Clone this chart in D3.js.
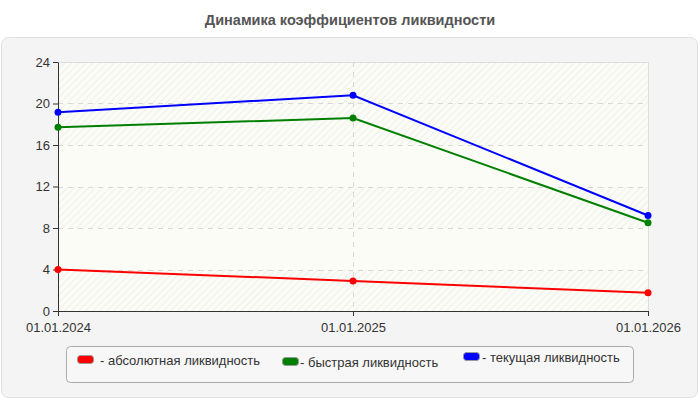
<!DOCTYPE html>
<html>
<head>
<meta charset="utf-8">
<script src="https://cdn.jsdelivr.net/npm/d3@7"></script>
<style>
  body { margin: 0; background: #fff; }
  #chart text { font-family: "Liberation Sans", Arial, sans-serif; }
</style>
</head>
<body>
<div id="chart"></div>
<script>
var dates = ["01.01.2024", "01.01.2025", "01.01.2026"];
var absolute = [4.0, 2.9, 1.75];
var quick = [17.7, 18.6, 8.5];
var current = [19.15, 20.8, 9.2];
var yTicks = [0, 4, 8, 12, 16, 20, 24];
var seriesNames = ["- абсолютная ликвидность", "- быстрая ликвидность", "- текущая ликвидность"];
var seriesColors = ["#ff0000", "#008000", "#0000ff"];
var plainBands = [[4, 8], [12, 16]];

document.addEventListener('DOMContentLoaded', function() {
  drawChart();
});

function drawChart() {
  var W = 700, H = 400;
  var margin = {top: 62, right: 52, bottom: 89, left: 58},
      width = W - margin.left - margin.right,
      height = H - margin.top - margin.bottom;

  var svg = d3.select("#chart").append("svg")
      .attr("width", W).attr("height", H);

  var defs = svg.append("defs");
  var pat = defs.append("pattern")
      .attr("id", "hatch")
      .attr("patternUnits", "userSpaceOnUse")
      .attr("width", 5).attr("height", 5)
      .attr("patternTransform", "rotate(45)");
  pat.append("rect").attr("width", 5).attr("height", 5).attr("fill", "#fcfcf7");
  pat.append("line").attr("x1", 0).attr("y1", 0).attr("x2", 0).attr("y2", 5)
      .attr("stroke", "#ebebe8").attr("stroke-width", 1.5);

  // title
  svg.append("text")
    .attr("x", W / 2).attr("y", 25)
    .attr("text-anchor", "middle")
    .style("font-size", "14.5px").style("font-weight", "bold")
    .style("fill", "#555")
    .text("Динамика коэффициентов ликвидности");

  // outer panel
  svg.append("rect")
    .attr("x", 1.5).attr("y", 37.5).attr("width", 696).attr("height", 360)
    .attr("rx", 7).attr("fill", "#f4f4f4").attr("stroke", "#e0e0e0");

  var x = d3.scalePoint().domain(dates).range([0, width]);
  var y = d3.scaleLinear().domain([0, 24]).range([height, 0]);

  var g = svg.append("g")
    .attr("transform", "translate(" + margin.left + "," + margin.top + ")");

  // plot background
  g.append("rect").attr("width", width).attr("height", height)
    .attr("fill", "url(#hatch)");
  g.selectAll(".band").data(plainBands).enter().append("rect")
    .attr("x", 0).attr("width", width)
    .attr("y", function(d) { return y(d[1]); })
    .attr("height", function(d) { return y(d[0]) - y(d[1]); })
    .attr("fill", "#fcfcf7");

  // border top / right
  g.append("path")
    .attr("d", "M0,0.5H" + (width + 0.5) + "V" + height)
    .attr("fill", "none").attr("stroke", "#dddddd");

  // grid
  g.selectAll(".hgrid").data(yTicks.slice(1, -1)).enter().append("line")
    .attr("x1", 0).attr("x2", width)
    .attr("y1", function(d) { return Math.round(y(d)) + 0.5; })
    .attr("y2", function(d) { return Math.round(y(d)) + 0.5; })
    .attr("stroke", "#d8d8d8").attr("stroke-dasharray", "5,5");
  g.selectAll(".vgrid").data(dates.slice(1, -1)).enter().append("line")
    .attr("x1", function(d) { return Math.round(x(d)) + 0.5; })
    .attr("x2", function(d) { return Math.round(x(d)) + 0.5; })
    .attr("y1", 0).attr("y2", height)
    .attr("stroke", "#d8d8d8").attr("stroke-dasharray", "5,5");

  // axes
  var yAxis = g.append("g")
    .call(d3.axisLeft(y).tickValues(yTicks).tickSize(5).tickSizeOuter(0));
  var xAxis = g.append("g")
    .attr("transform", "translate(0," + height + ")")
    .call(d3.axisBottom(x).tickSize(5).tickSizeOuter(0));
  [xAxis, yAxis].forEach(function(a) {
    a.select(".domain").attr("stroke", "#333");
    a.selectAll(".tick line").attr("stroke", "#333");
    a.selectAll(".tick text").attr("fill", "#333")
      .style("font-size", "13px").style("font-family", "'Liberation Sans', Arial, sans-serif");
  });
  xAxis.selectAll(".tick text").attr("dy", "1em");

  // lines
  var line = d3.line()
    .x(function(d, i) { return x(dates[i]); })
    .y(function(d) { return y(d); });

  [absolute, quick, current].forEach(function(data, k) {
    g.append("path")
      .datum(data)
      .attr("fill", "none")
      .attr("stroke", seriesColors[k])
      .attr("stroke-width", 2)
      .attr("d", line);
    g.selectAll(".pt" + k).data(data).enter().append("circle")
      .attr("cx", function(d, i) { return x(dates[i]); })
      .attr("cy", function(d) { return y(d); })
      .attr("r", 3.5)
      .attr("fill", seriesColors[k]);
  });

  // legend
  var lg = svg.append("g");
  lg.append("rect")
    .attr("x", 66.5).attr("y", 346.5).attr("width", 567).attr("height", 36)
    .attr("rx", 4).attr("fill", "#f7f7f7").attr("stroke", "#aaa");
  var itemX = [77, 282, 463];
  var textX = [100, 300, 482];
  var itemY = [360, 362, 357];
  seriesNames.forEach(function(name, k) {
    lg.append("rect")
      .attr("x", itemX[k] + 0.5).attr("y", itemY[k] - 4.5)
      .attr("width", 16).attr("height", 8).attr("rx", 3)
      .attr("fill", seriesColors[k]).attr("stroke", "#999").attr("stroke-width", 1);
    lg.append("text")
      .attr("x", textX[k]).attr("y", itemY[k])
      .attr("dy", "0.35em")
      .style("font-size", "13px").style("fill", "#333")
      .text(name);
  });
}
</script>
</body>
</html>
